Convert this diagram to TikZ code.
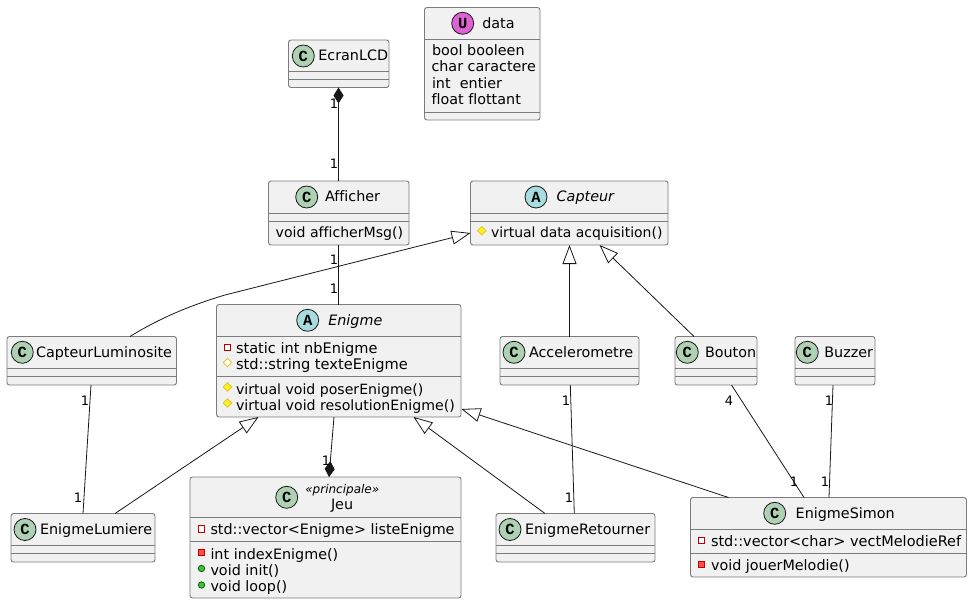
\documentclass[tikz,border=0pt]{standalone}
\usepackage{fontspec}
\setmainfont[Ligatures=NoCommon]{DejaVu Sans}
\newfontfamily\iconfont{Liberation Mono}
\usetikzlibrary{arrows.meta,calc}
\definecolor{boxfill}{HTML}{F1F1F1}
\definecolor{boxline}{HTML}{181818}
\definecolor{boxedge}{HTML}{7C7C7C}
\definecolor{cgreen}{HTML}{ADD1B2}
\definecolor{acyan}{HTML}{A9DCDF}
\definecolor{umag}{HTML}{DF62D5}
\newcounter{tn}
\tikzset{
  x=1pt,y=-1pt,
  umlbox/.style={draw=boxedge,fill=boxfill,line width=0.9pt,rounded corners=2.5pt,inner sep=0,outer sep=0,anchor=north west},
  divider/.style={draw=boxedge,line width=0.9pt},
  conn/.style={draw=boxline,line width=0.8pt},
  inherit/.style={conn,-{Triangle[open,length=19pt,width=14pt,fill=white]}},
  compose/.style={conn,-{Diamond[length=16pt,width=10pt,fill=boxline]}},
  txt/.style={anchor=base west,inner sep=0,outer sep=0,font=\fontsize{14.35}{16}\selectfont,text=black},
  txtsize/.style={txt,font=\fontsize{#1}{16}\selectfont},
  ital/.style={txt,font=\fontsize{14.35}{16}\selectfont\itshape},
  stereo/.style={txt,font=\fontsize{12}{14}\selectfont\itshape},
  multi/.style={anchor=center,inner sep=0,outer sep=0,font=\fontsize{13}{15}\selectfont,text=black},
  badge/.style={circle,draw=boxline,line width=0.8pt,minimum size=22pt,inner sep=0,outer sep=0,font=\fontsize{15.5}{15}\selectfont\iconfont\bfseries,text=black},
  privf/.style={draw=red!75!black,fill=white,line width=0.8pt},
  privm/.style={draw=red!75!black,fill=red!70!white,line width=0.8pt},
  protf/.style={draw=yellow!55!brown,fill=white,line width=0.8pt},
  protm/.style={draw=yellow!55!brown,fill=yellow!90!white,line width=0.8pt},
  pubm/.style={draw=green!40!black,fill=green!50!gray,line width=0.8pt},
}
% name, x1, y1, x2, y2, divider 1, divider 2
\newcommand\umlclass[7]{%
  \node[umlbox,minimum width=#4pt-#2pt,minimum height=#5pt-#3pt] (#1) at (#2,#3) {};
  \draw[divider] (#2,#6) -- (#4,#6);
  \draw[divider] (#2,#7) -- (#4,#7);}
\newcommand\lab[4][txt]{\stepcounter{tn}\node[#1] (t\thetn) at (#2,#3) {#4};}
\newcommand\badge[4]{\stepcounter{tn}\node[badge,fill=#1] (t\thetn) at (#2,#3) {#4};}
\newcommand\mult[3]{\stepcounter{tn}\node[multi] (t\thetn) at (#1,#2) {#3};}
\newcommand\sqicon[3]{\path[#1] (#2-3.2,#3-3.2) rectangle (#2+3.2,#3+3.2);}
\newcommand\dicon[3]{\path[#1] (#2-4.3,#3) -- (#2,#3-4.3) -- (#2+4.3,#3) -- (#2,#3+4.3) -- cycle;}
\newcommand\cicon[3]{\path[#1] (#2,#3) circle (3.2pt);}
\begin{document}
\begin{tikzpicture}
\useasboundingbox[fill=white] (0,0) rectangle (972,604);
\umlclass{ecran}{288.5}{40}{389}{87.5}{71}{79.5}
\umlclass{data}{424.5}{7.5}{540}{120}{39.5}{112.5}
\umlclass{afficher}{268.5}{181}{409}{245}{213}{221}
\umlclass{capteur}{470.5}{181}{668}{245}{213}{221}
\umlclass{lum}{7}{336.5}{176.5}{385}{368}{376}
\umlclass{enigme}{216.5}{304.5}{461}{417}{336.5}{376.5}
\umlclass{accel}{500}{336.5}{639}{385}{368}{376}
\umlclass{bouton}{675}{336.5}{757}{385}{368}{376}
\umlclass{buzzer}{795}{336.5}{875}{385}{368}{376}
\umlclass{elum}{11}{513.5}{155}{562}{545}{553}
\umlclass{jeu}{190}{477}{461}{598}{517.5}{541.5}
\umlclass{eret}{496}{513.5}{655}{562}{545}{553}
\umlclass{esim}{690.5}{497.5}{966.5}{577}{529.5}{553.5}
% connectors
\draw[conn,{Diamond[length=16pt,width=10pt,fill=boxline]}-] ($(ecran.south west)+(50,0)$) -- ($(afficher.north west)+(70,0)$);
\draw[conn] ($(afficher.south west)+(70,0)$) -- ($(enigme.north west)+(122,0)$);
\draw[inherit] ($(lum.north west)+(123,0)$) .. controls (160,318) and (190,305.5) .. (225,295) -- ($(capteur.north west)+(0,52)$);
\draw[inherit] ($(accel.north west)+(69.5,0)$) -- ($(capteur.south west)+(99,0)$);
\draw[inherit] ($(bouton.north west)+(19,0)$) -- ($(capteur.south west)+(129,0)$);
\draw[conn] ($(lum.south west)+(84,0)$) -- ($(elum.north west)+(72,0)$);
\draw[inherit] ($(elum.north west)+(104,0)$) -- ($(enigme.south west)+(42,0)$);
\draw[compose] ($(enigme.south west)+(117.5,0)$) -- ($(jeu.north west)+(139,0)$);
\draw[inherit] ($(eret.north west)+(49,0)$) -- ($(enigme.south west)+(197,0)$);
\draw[inherit] ($(esim.north west)+(38,0)$) -- ($(enigme.south east)+(0.5,-8)$);
\draw[conn] ($(accel.south west)+(70.3,0)$) -- ($(eret.north west)+(78.3,0)$);
\draw[conn] ($(bouton.south west)+(56.5,0)$) -- ($(esim.north west)+(113.5,0)$);
\draw[conn] ($(buzzer.south west)+(38,0)$) -- ($(esim.north west)+(138.5,0)$);
% badges and texts
\badge{cgreen}{303.3}{56}{C}
\lab{318.3}{61}{EcranLCD}
\badge{umag}{462.7}{23.3}{U}
\lab{482.3}{28.5}{data}
\lab{432}{56}{bool booleen}
\lab{431.5}{72}{char caractere}
\lab{432}{89}{int\ \ entier}
\lab{431.5}{105}{float flottant}
\badge{cgreen}{306.7}{197}{C}
\lab{325}{201.5}{Afficher}
\lab[txtsize=14.1]{275.7}{238}{void afficherMsg()}
\badge{acyan}{536}{197}{A}
\lab[ital]{556.7}{201.5}{Capteur}
\dicon{protm}{481.7}{230.7}
\lab[txtsize=13.95]{491}{238}{virtual data acquisition()}
\badge{cgreen}{22.3}{352.3}{C}
\lab{36}{357}{CapteurLuminosite}
\badge{acyan}{307.7}{320.3}{A}
\lab[ital]{328.3}{325}{Enigme}
\sqicon{privf}{227.5}{347.5}
\lab[txtsize=14.55]{236}{353}{static int nbEnigme}
\dicon{protf}{227.5}{362.5}
\lab[txtsize=14.6]{236}{369}{std::string texteEnigme}
\dicon{protm}{227.5}{387}
\lab[txtsize=14.1]{236}{394}{virtual void poserEnigme()}
\dicon{protm}{227.5}{403}
\lab[txtsize=14.15]{236}{410}{virtual void resolutionEnigme()}
\badge{cgreen}{514}{352.3}{C}
\lab{529}{357}{Accelerometre}
\badge{cgreen}{687.3}{352.3}{C}
\lab{705}{357}{Bouton}
\badge{cgreen}{807.3}{352.3}{C}
\lab{824.3}{357}{Buzzer}
\badge{cgreen}{25}{529.5}{C}
\lab{40}{534.5}{EnigmeLumiere}
\badge{cgreen}{286.7}{497.3}{C}
\lab[stereo]{305.3}{493}{«principale»}
\lab{331}{509}{Jeu}
\sqicon{privf}{201.5}{528.7}
\lab{210.5}{534}{std::vector<Enigme> listeEnigme}
\sqicon{privm}{201.5}{552.3}
\lab{210.5}{559}{int indexEnigme()}
\cicon{pubm}{201.5}{568.5}
\lab{210.5}{575}{void init()}
\cicon{pubm}{201.5}{585}
\lab{210.5}{591}{void loop()}
\badge{cgreen}{510}{529.5}{C}
\lab{525}{534.5}{EnigmeRetourner}
\badge{cgreen}{774.7}{513.3}{C}
\lab{795.7}{518.5}{EnigmeSimon}
\sqicon{privf}{701.5}{540.5}
\lab[txtsize=14.5]{711}{546}{std::vector<char> vectMelodieRef}
\sqicon{privm}{701.5}{564.5}
\lab{711}{570}{void jouerMelodie()}
% multiplicities
\mult{334}{104}{1}
\mult{334}{164}{1}
\mult{334}{259.5}{1}
\mult{334}{288.5}{1}
\mult{85}{400.7}{1}
\mult{78}{498}{1}
\mult{326}{461}{1}
\mult{566}{400.7}{1}
\mult{569}{498}{1}
\mult{729}{400.7}{4}
\mult{794}{482}{1}
\mult{829}{400.7}{1}
\mult{825}{482}{1}
\end{tikzpicture}
\end{document}
